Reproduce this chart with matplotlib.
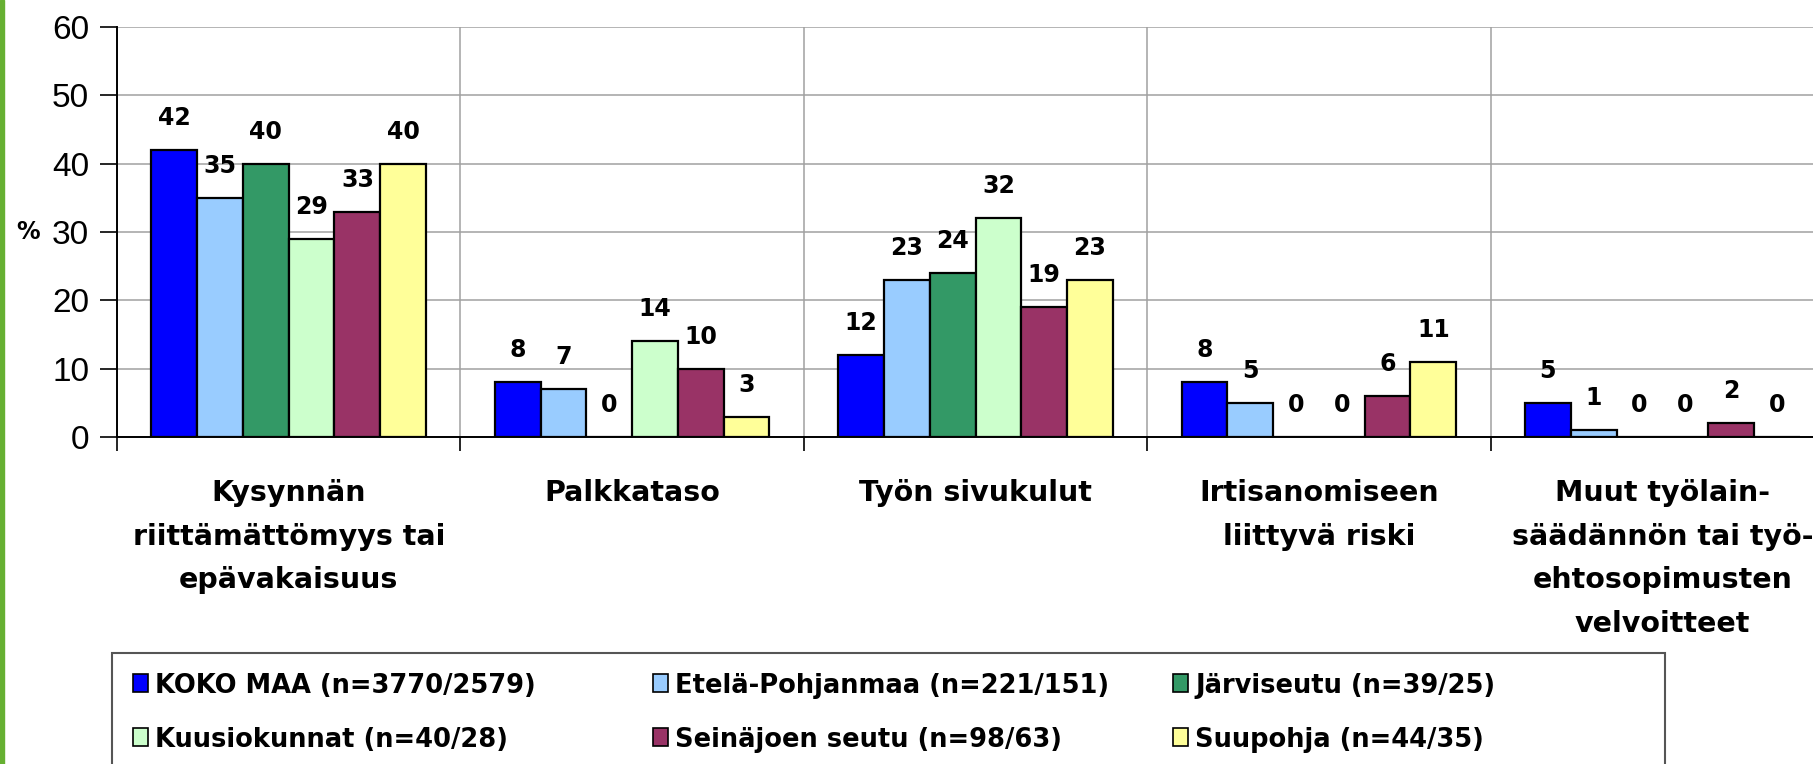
import matplotlib.pyplot as plt
import numpy as np
from matplotlib.patches import Rectangle

categories = ['Kysynnän\nriittämättömyys tai\nepävakaisuus',
              'Palkkataso',
              'Työn sivukulut',
              'Irtisanomiseen\nliittyvä riski',
              'Muut työlain-\nsäädännön tai työ-\nehtosopimusten\nvelvoitteet']
series = ['KOKO MAA (n=3770/2579)', 'Etelä-Pohjanmaa (n=221/151)', 'Järviseutu (n=39/25)',
          'Kuusiokunnat (n=40/28)', 'Seinäjoen seutu (n=98/63)', 'Suupohja (n=44/35)']
koko_maa = [42, 8, 12, 8, 5]
etela_pohjanmaa = [35, 7, 23, 5, 1]
jarviseutu = [40, 0, 24, 0, 0]
kuusiokunnat = [29, 14, 32, 0, 0]
seinajoen_seutu = [33, 10, 19, 6, 2]
suupohja = [40, 3, 23, 11, 0]
values = [koko_maa, etela_pohjanmaa, jarviseutu, kuusiokunnat, seinajoen_seutu, suupohja]
colors = ['#0000FF', '#99CCFF', '#339966', '#CCFFCC', '#993366', '#FFFF99']

font = ['Liberation Sans', 'DejaVu Sans']
bold_font = ['DejaVu Sans']
W, H = 1813, 764

fig = plt.figure(figsize=(W / 100, H / 100), dpi=100)
ax = fig.add_axes([117 / W, 1 - 437 / H, 1717 / W, 410 / H])

x = np.arange(len(categories)) + 0.5
width = 0.8 / len(series)
for i, (name, vals, col) in enumerate(zip(series, values, colors)):
    pos = x - 0.4 + width * (i + 0.5)
    ax.bar(pos, vals, width, color=col, edgecolor='black', linewidth=1.6, label=name)
    for xp, v in zip(pos, vals):
        ax.annotate(str(v), (xp, v), xytext=(0, 23), textcoords='offset points',
                    ha='center', va='center', fontsize=17, fontweight='bold',
                    family=bold_font)

ax.set_xlim(0, len(categories))
ax.set_ylim(0, 60)
ax.set_yticks(range(0, 61, 10))
ax.set_xticks(range(0, len(categories) + 1))
ax.set_xticklabels([])
ax.set_xticks(x, minor=True)
ax.set_xticklabels(categories, minor=True, fontsize=20.5, fontweight='bold',
                   family=bold_font, linespacing=1.72)
ax.tick_params(axis='x', which='major', length=10, width=1.2, direction='out')
ax.tick_params(axis='x', which='minor', length=0, pad=30)
ax.tick_params(axis='y', length=12, width=1.2, pad=8, labelsize=24)
for lab in ax.get_yticklabels():
    lab.set_family(font)
ax.grid(True, which='major', color='#a0a0a0', linewidth=1.1)
ax.set_axisbelow(True)
for s in ['top', 'right']:
    ax.spines[s].set_visible(False)
ax.spines['left'].set_linewidth(1.4)
ax.spines['bottom'].set_linewidth(1.4)
ax.set_ylabel('%', rotation=0, fontsize=17, fontweight='bold', family=bold_font, va='center')
ax.yaxis.set_label_coords(-0.052, 0.5)

# legend drawn by hand so the three columns keep an even pitch
fig.patches.append(Rectangle((112 / W, -0.05), (1665 - 112) / W, 0.05 + 1 - 653 / H,
                             transform=fig.transFigure, facecolor='white',
                             edgecolor='#555555', linewidth=1.5))
for k, (name, col) in enumerate(zip(series, colors)):
    hx = 133 + 520 * (k % 3)
    hy = 683 + 54 * (k // 3)
    fig.patches.append(Rectangle((hx / W, 1 - (hy + 9) / H), 15 / W, 18 / H,
                                 transform=fig.transFigure, facecolor=col,
                                 edgecolor='black', linewidth=1.2))
    fig.text((hx + 22) / W, 1 - hy / H, name, ha='left', va='center_baseline',
             fontsize=18.5, fontweight='bold', family=bold_font)

fig.patches.append(Rectangle((0, 0), 4 / W, 1, transform=fig.transFigure,
                             color='#66B032', zorder=10))

fig.savefig('out.png', dpi=100)
